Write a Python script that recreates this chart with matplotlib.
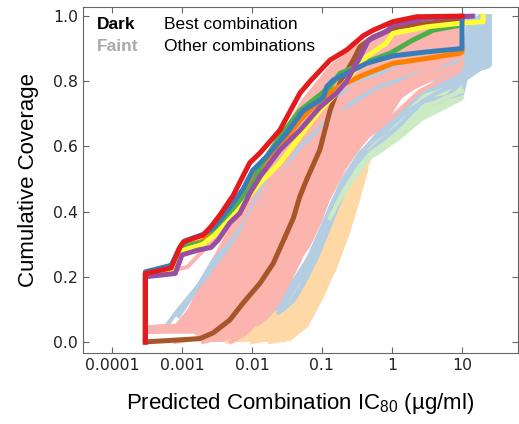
import matplotlib
matplotlib.use("Agg")
import matplotlib.pyplot as plt

# ---- faint lines: other combinations (x = IC80, y = cumulative coverage) ----
pink_x = [
    [0.0003, 0.0003, 0.0012, 0.0022, 0.003, 0.0045, 0.0075, 0.013, 0.025, 0.05, 0.12, 0.4, 2, 10, 10],
    [0.0003, 0.0003, 0.0009, 0.0015, 0.0025, 0.004, 0.007, 0.012, 0.025, 0.05, 0.12, 0.45, 2.5, 10, 10],
    [0.0003, 0.0003, 0.002, 0.003, 0.0045, 0.007, 0.011, 0.018, 0.033, 0.07, 0.17, 0.7, 3, 10, 10],
    [0.0008, 0.003, 0.005, 0.008, 0.012, 0.018, 0.028, 0.05, 0.1, 0.25, 1.0, 4, 10, 10],
    [0.002, 0.005, 0.008, 0.012, 0.018, 0.027, 0.04, 0.07, 0.15, 0.4, 1.5, 6, 10, 10],
    [0.005, 0.008, 0.013, 0.02, 0.03, 0.045, 0.07, 0.12, 0.25, 0.6, 2, 8, 10, 10],
    [0.012, 0.016, 0.022, 0.033, 0.05, 0.08, 0.12, 0.2, 0.45, 1.0, 2.5, 9, 10],
]
pink_y = [
    [0, 0.2, 0.23, 0.29, 0.32, 0.37, 0.44, 0.52, 0.61, 0.7, 0.78, 0.86, 0.93, 0.96, 1.0],
    [0, 0.045, 0.05, 0.1, 0.17, 0.25, 0.33, 0.43, 0.55, 0.66, 0.77, 0.86, 0.92, 0.95, 1.0],
    [0, 0.03, 0.035, 0.08, 0.17, 0.27, 0.37, 0.47, 0.57, 0.67, 0.77, 0.85, 0.9, 0.93, 1.0],
    [0, 0.02, 0.07, 0.15, 0.25, 0.35, 0.45, 0.55, 0.65, 0.75, 0.83, 0.88, 0.9, 1.0],
    [0, 0.02, 0.07, 0.15, 0.24, 0.34, 0.44, 0.54, 0.63, 0.72, 0.8, 0.86, 0.88, 1.0],
    [0, 0.025, 0.07, 0.15, 0.24, 0.34, 0.44, 0.53, 0.62, 0.7, 0.78, 0.84, 0.86, 1.0],
    [0.055, 0.075, 0.11, 0.18, 0.26, 0.36, 0.44, 0.54, 0.63, 0.69, 0.77, 0.83, 0.85],
]
# outline of the dense pink bundle
pink_band_x = [0.0003, 0.0003, 0.0015, 0.002, 0.006, 0.01, 0.02, 0.031, 0.0485, 0.067, 0.1, 0.13,
               0.22, 0.43, 0.94, 1.4, 3.0, 10, 10, 3, 1, 0.5, 0.3, 0.13, 0.07, 0.05, 0.03, 0.015,
               0.01, 0.007, 0.005, 0.0035, 0.002, 0.0012, 0.0008]
pink_band_y = [0.05, 0.028, 0.025, 0.0, 0.0, 0.045, 0.098, 0.18, 0.25, 0.29, 0.37, 0.435,
               0.53, 0.62, 0.69, 0.75, 0.8, 0.84, 0.99, 0.985, 0.97, 0.94, 0.91, 0.85, 0.78, 0.74,
               0.66, 0.56, 0.48, 0.42, 0.36, 0.3, 0.2, 0.1, 0.055]

lblue_x = [
    [0.0003, 0.0003, 0.0006, 0.0009, 0.0014, 0.0022, 0.0035, 0.005, 0.008, 0.012, 0.03, 0.08, 0.3, 2, 12, 12],
    [0.0009, 0.0012, 0.0018, 0.0028, 0.0043, 0.006, 0.01, 0.02, 0.05, 0.15, 0.6, 4, 15, 15],
    [0.018, 0.03, 0.045, 0.065, 0.09, 0.13, 0.2, 0.35, 0.7, 1.5, 4, 10, 18, 18],
    [0.024, 0.035, 0.05, 0.075, 0.1, 0.15, 0.24, 0.4, 0.9, 2, 6, 10, 22, 22],
    [0.028, 0.04, 0.055, 0.085, 0.12, 0.17, 0.27, 0.45, 1.2, 2.8, 10, 12, 25, 25],
]
lblue_y = [
    [0, 0.04, 0.05, 0.1, 0.15, 0.2, 0.26, 0.3, 0.36, 0.45, 0.58, 0.7, 0.8, 0.86, 0.9, 1.0],
    [0.08, 0.12, 0.18, 0.25, 0.29, 0.33, 0.4, 0.5, 0.6, 0.7, 0.78, 0.84, 0.88, 1.0],
    [0.09, 0.14, 0.2, 0.26, 0.33, 0.41, 0.5, 0.58, 0.64, 0.7, 0.76, 0.8, 0.86, 1.0],
    [0.09, 0.12, 0.17, 0.25, 0.31, 0.4, 0.5, 0.57, 0.63, 0.7, 0.75, 0.8, 0.85, 1.0],
    [0.1, 0.13, 0.18, 0.26, 0.34, 0.42, 0.51, 0.58, 0.66, 0.74, 0.76, 0.83, 0.85, 1.0],
]
lblue_band_x = [0.016, 0.028, 0.0485, 0.085, 0.12, 0.18, 0.28, 0.45, 0.9, 1.6, 2.8, 10, 12, 25, 25,
                12, 10, 3, 1, 0.4, 0.15, 0.08, 0.04, 0.022]
lblue_band_y = [0.09, 0.1, 0.18, 0.26, 0.36, 0.435, 0.52, 0.58, 0.64, 0.71, 0.75, 0.75, 0.82, 0.84, 1.0,
                1.0, 0.88, 0.78, 0.7, 0.6, 0.45, 0.3, 0.2, 0.12]

lgreen_x = [
    [0.13, 0.2, 0.32, 0.5, 0.8, 1.5, 2.8, 10],
    [0.16, 0.28, 0.45, 0.65, 1.1, 2.2, 10],
]
lgreen_y = [
    [0.38, 0.46, 0.53, 0.58, 0.61, 0.66, 0.72, 0.77],
    [0.42, 0.5, 0.56, 0.59, 0.63, 0.7, 0.75],
]
lgreen_band_x = [0.45, 0.6, 1.3, 2.8, 10, 10, 2.8, 1.6, 0.85, 0.43]
lgreen_band_y = [0.56, 0.57, 0.62, 0.68, 0.74, 0.8, 0.76, 0.71, 0.64, 0.6]

peach_x = [
    [0.0045, 0.012, 0.03, 0.055, 0.09, 0.13, 0.2, 0.3, 0.45],
    [0.01, 0.02, 0.04, 0.07, 0.11, 0.17, 0.26, 0.38, 0.47],
    [0.018, 0.035, 0.06, 0.1, 0.16, 0.23, 0.33, 0.43],
]
peach_y = [
    [0, 0.02, 0.06, 0.15, 0.25, 0.34, 0.44, 0.52, 0.57],
    [0, 0.01, 0.05, 0.13, 0.23, 0.32, 0.42, 0.51, 0.56],
    [0, 0.01, 0.05, 0.14, 0.24, 0.33, 0.44, 0.53],
]
peach_band_x = [0.0043, 0.03, 0.054, 0.093, 0.16, 0.25, 0.39, 0.48, 0.45, 0.28, 0.18, 0.12, 0.085,
                0.0485, 0.028, 0.02, 0.01, 0.006]
peach_band_y = [0.0, 0.0, 0.037, 0.13, 0.22, 0.343, 0.497, 0.56, 0.57, 0.52, 0.435, 0.36, 0.26,
                0.18, 0.1, 0.095, 0.045, 0.01]

# ---- dark lines: best combination of each group ----
brown_x = [0.0003, 0.0018, 0.0028, 0.0048, 0.0075, 0.013, 0.02, 0.028, 0.039, 0.048, 0.06,
           0.093, 0.13, 0.18, 0.28, 0.35, 0.54, 1.2, 10]
brown_y = [0.0, 0.01, 0.028, 0.067, 0.12, 0.18, 0.24, 0.31, 0.38, 0.445, 0.497,
           0.589, 0.71, 0.794, 0.865, 0.906, 0.936, 0.967, 0.99]

orange_x = [0.0003, 0.0003, 0.0008, 0.001, 0.002, 0.0035, 0.0067, 0.013, 0.025, 0.0485, 0.075,
            0.145, 0.2, 0.35, 1.03, 3.1, 9.3, 10, 10]
orange_y = [0.0, 0.21, 0.225, 0.29, 0.31, 0.36, 0.45, 0.53, 0.6, 0.68, 0.722,
            0.773, 0.79, 0.815, 0.855, 0.87, 0.886, 0.89, 0.9]

green_x = [0.0003, 0.0003, 0.0008, 0.001, 0.0022, 0.0035, 0.0054, 0.0084, 0.011, 0.013, 0.025,
           0.0485, 0.075, 0.13, 0.18, 0.39, 0.94, 1.97, 3.9, 9.3, 10]
green_y = [0.0, 0.21, 0.225, 0.292, 0.307, 0.354, 0.405, 0.457, 0.497, 0.538, 0.63,
           0.71, 0.742, 0.783, 0.824, 0.855, 0.886, 0.926, 0.957, 0.972, 0.975]

yellow_x = [0.0003, 0.0003, 0.0008, 0.001, 0.002, 0.003, 0.005, 0.0067, 0.0093, 0.013, 0.025,
            0.0485, 0.093, 0.16, 0.25, 0.43, 0.82, 1.03, 1.8, 3.1, 9.3, 20, 20]
yellow_y = [0.0, 0.21, 0.225, 0.28, 0.30, 0.33, 0.38, 0.41, 0.45, 0.488, 0.549,
            0.63, 0.71, 0.763, 0.814, 0.875, 0.916, 0.947, 0.957, 0.967, 0.978, 0.983, 1.0]

blue_x = [0.0003, 0.0003, 0.0007, 0.00093, 0.0011, 0.002, 0.0028, 0.0037, 0.0055, 0.0075, 0.0103,
          0.016, 0.031, 0.054, 0.09, 0.105, 0.117, 0.145, 0.225, 0.43, 1.03, 3.1, 9.6, 10, 10]
blue_y = [0.0, 0.215, 0.235, 0.29, 0.31, 0.33, 0.35, 0.38, 0.43, 0.47, 0.527,
          0.568, 0.64, 0.71, 0.74, 0.752, 0.783, 0.804, 0.824, 0.855, 0.878, 0.89, 0.90, 0.9, 1.0]

purple_x = [0.0003, 0.0003, 0.0008, 0.001, 0.0017, 0.0026, 0.0033, 0.0048, 0.0067, 0.0093, 0.013,
            0.025, 0.0485, 0.093, 0.16, 0.225, 0.35, 0.46, 0.82, 1.03, 3.1, 14]
purple_y = [0.0, 0.2, 0.21, 0.267, 0.282, 0.29, 0.313, 0.365, 0.395, 0.456, 0.507,
            0.589, 0.65, 0.72, 0.763, 0.8, 0.875, 0.926, 0.952, 0.972, 0.993, 1.0]

red_x = [0.0003, 0.0003, 0.0007, 0.00093, 0.00105, 0.002, 0.0026, 0.0035, 0.0054, 0.0067, 0.0093,
         0.013, 0.025, 0.0485, 0.0675, 0.13, 0.225, 0.39, 0.54, 1.03, 2.25, 9.3, 10]
red_y = [0.0, 0.21, 0.227, 0.29, 0.307, 0.328, 0.354, 0.39, 0.45, 0.49, 0.55,
         0.58, 0.65, 0.764, 0.80, 0.865, 0.896, 0.94, 0.957, 0.983, 0.998, 1.0, 1.0]

x_ticks = [0.0001, 0.001, 0.01, 0.1, 1, 10]
x_ticklabels = ["0.0001", "0.001", "0.01", "0.1", "1", "10"]
y_ticks = [0.0, 0.2, 0.4, 0.6, 0.8, 1.0]

PINK, LBLUE, LGREEN, PEACH = "#fbb4ae", "#b3cde3", "#ccebc5", "#fed9a6"

fig = plt.figure(figsize=(5.19, 4.24), dpi=100)
ax = fig.add_axes([0.160, 0.1675, 0.838, 0.816])

# faint bundles: filled outline of the dense lines, then a few single lines
faint_lw = 3.0
groups = [
    (PEACH, peach_band_x, peach_band_y, peach_x, peach_y),
    (LBLUE, lblue_band_x, lblue_band_y, lblue_x, lblue_y),
    (LGREEN, lgreen_band_x, lgreen_band_y, lgreen_x, lgreen_y),
    (PINK, pink_band_x, pink_band_y, pink_x, pink_y),
]
for color, bx, by, lines_x, lines_y in groups:
    ax.fill(bx, by, color=color, lw=0)
    for xs, ys in zip(lines_x, lines_y):
        ax.plot(xs, ys, color=color, lw=faint_lw)

dark_lw = 3.6
ax.plot(brown_x, brown_y, color="#a65628", lw=dark_lw)
ax.plot(orange_x, orange_y, color="#ff7f00", lw=dark_lw)
ax.plot(green_x, green_y, color="#4daf4a", lw=dark_lw)
ax.plot(yellow_x, yellow_y, color="#ffff33", lw=dark_lw)
ax.plot(blue_x, blue_y, color="#377eb8", lw=dark_lw)
ax.plot(purple_x, purple_y, color="#984ea3", lw=dark_lw)
ax.plot(red_x, red_y, color="#e41a1c", lw=dark_lw)

ax.set_xscale("log")
ax.set_xlim(3.86e-5, 63)
ax.set_ylim(-0.034, 1.028)
ax.set_xticks(x_ticks)
ax.set_xticklabels(x_ticklabels)
ax.set_yticks(y_ticks)
ax.minorticks_off()
ax.tick_params(direction="in", length=4, width=0.8, color="#666666",
               labelsize=11.3, labelcolor="#222222", top=True, right=True)
for sp in ax.spines.values():
    sp.set_color("#666666")

lab_font = dict(family="Liberation Sans", size=16)
ax.set_ylabel("Cumulative Coverage", labelpad=10, **lab_font)
ax.set_xlabel("Predicted Combination IC$_{\\mathregular{80}}$ (\u00b5g/ml)", labelpad=13, **lab_font)

leg_size = 12.5
ax.text(0.032, 0.95, "Dark", transform=ax.transAxes, fontsize=leg_size, fontweight="bold",
        family="Liberation Sans", color="black", va="center")
ax.text(0.032, 0.887, "Faint", transform=ax.transAxes, fontsize=leg_size, fontweight="bold",
        family="Liberation Sans", color="#aaaaaa", va="center")
ax.text(0.186, 0.95, "Best combination", transform=ax.transAxes, fontsize=leg_size,
        family="Liberation Sans", color="black", va="center")
ax.text(0.186, 0.887, "Other combinations", transform=ax.transAxes, fontsize=leg_size,
        family="Liberation Sans", color="black", va="center")

fig.savefig("out.png", dpi=100)
